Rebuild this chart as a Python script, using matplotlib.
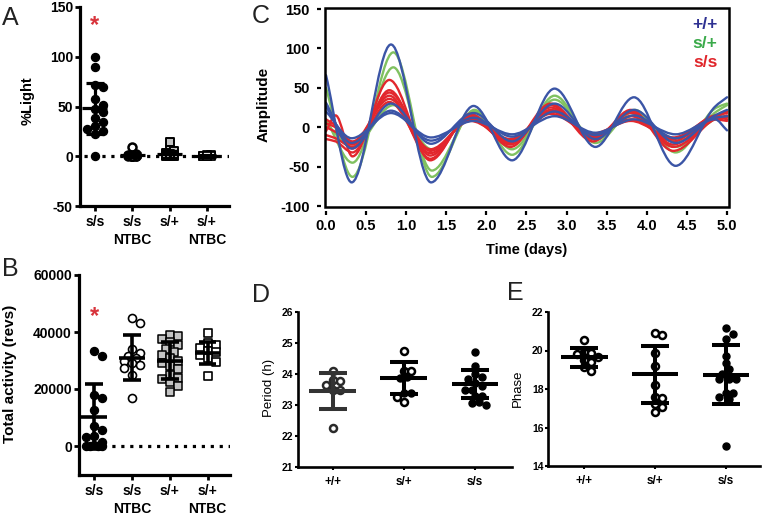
import numpy as np
import matplotlib
matplotlib.use('Agg')
import matplotlib.pyplot as plt
from matplotlib.path import Path
from matplotlib.patches import PathPatch, Rectangle

plt.rcParams['font.family'] = ['Liberation Sans', 'DejaVu Sans']
plt.rcParams['font.weight'] = 'bold'
plt.rcParams['axes.labelweight'] = 'bold'
plt.rcParams['axes.unicode_minus'] = False

W, H = 762, 518

# ---------------- data ----------------
groups_ab = ['s/s', 's/s\nNTBC', 's/+', 's/+\nNTBC']

# A: % activity in light
light_ss = [100, 90, 72, 70, 58, 52, 47, 44, 38, 34, 30, 27, 25, 22, 0]
light_ssN = [9, 2, 1, 1, 0.5, 0, 0, 0, 0, 0, 0, 0]
light_sp = [14, 6, 5, 3, 2, 1, 1, 0, 0, 0, 0, 0, 0, 0, 0]
light_spN = [1, 1, 0.5, 0, 0, 0, 0, 0]
light_mean = [48, 1, 2, 0.3]
light_sd = [26, 2, 3.5, 0.8]

# B: total activity (revs)
act_ss = [33500, 31500, 18000, 17000, 12500, 7000, 5500, 3500, 3000, 1500, 500, 0, 0, 0, 0]
act_ssN = [45000, 43000, 34000, 32500, 31500, 31000, 30000, 29000, 28500, 27500, 25000, 17000]
act_sp = [39000, 38500, 37500, 36500, 35500, 34000, 33000, 32000, 31000, 30000, 29000,
          28000, 27000, 25000, 24000, 23500, 22500, 21000, 19000]
act_spN = [39500, 36000, 35500, 34500, 33500, 33000, 32000, 31000, 29500, 24500]
act_mean = [10300, 31000, 30000, 32700]
act_sd = [11300, 7800, 6500, 3800]

# C: detrended rhythms (extrema)
wt_t = [0.0, 0.32, 0.81, 1.31, 1.84, 2.32, 2.85, 3.36, 3.84, 4.36, 4.85, 5.0]
wt_curves = [
    [66, -70, 105, -70, 27, -42, 49, -25, 38, -49, 26, 38],
    [31, -27, 30, -21, 18, -18, 30, -15, 22, -20, 15, 22],
    [26, -20, 21, -17, 12, -12, 20, -10, 15, -14, 12, 14],
    [20, -14, 18, -13, 8, -9, 14, -7, 10, -9, 10, -4],
]
het_t = [0.0, 0.33, 0.84, 1.32, 1.85, 2.32, 2.85, 3.36, 3.85, 4.36, 4.87, 5.0]
het_curves = [
    [50, -63, 95, -63, 22, -35, 40, -20, 22, -32, 25, 30],
    [10, -45, 76, -55, 20, -28, 35, -16, 20, -25, 20, 28],
    [5, -25, 28, -28, 14, -18, 22, -12, 15, -18, 12, 20],
]
hom_t = [0.0, 0.12, 0.33, 0.79, 1.3, 1.8, 2.3, 2.8, 3.33, 3.8, 4.33, 4.85, 5.0]
hom_curves = [
    [-5, 15, -37, 60, -42, 17, -25, 28, -18, 22, -30, 12, 20],
    [-15, -18, -32, 47, -36, 13, -22, 30, -15, 20, -25, 10, 15],
    [10, 2, -27, 44, -30, 10, -20, 25, -13, 18, -22, 12, 12],
    [0, -6, -22, 40, -40, 15, -18, 22, -12, 14, -18, 14, 10],
    [5, 0, -18, 36, -28, 8, -15, 20, -10, 10, -15, 10, 8],
    [-10, -14, -25, 32, -33, 11, -17, 17, -8, 8, -13, 15, 18],
]
geno = ['+/+', 's/+', 's/s']
geno_col = ['#3b55a6', '#80c160', '#e2272d']
geno_txt = ['#2e3192', '#3aaa4a', '#e0262b']

# D: period (h)
per_wt = [24.1, 23.8, 23.78, 23.65, 23.5, 23.48, 22.27]
per_het_open = [24.75, 24.1, 24.1, 23.25, 23.09]
per_het_fill = [23.9, 23.88, 23.4, 23.38]
per_hom = [24.7, 24.25, 24.0, 23.9, 23.85, 23.7, 23.6, 23.5, 23.5, 23.3, 23.3, 23.1, 23.07, 23.0]
per_mean = [23.46, 23.86, 23.69]
per_sd = [0.58, 0.52, 0.45]

# E: phase
ph_wt = [20.52, 19.92, 19.85, 19.8, 19.65, 19.5, 19.4, 19.15, 18.95]
ph_het = [20.92, 20.8, 19.88, 19.2, 18.2, 17.6, 17.55, 17.22, 17.05, 16.82]
ph_hom = [21.15, 20.86, 20.58, 19.7, 19.33, 19.02, 18.8, 18.52, 18.5, 18.5, 17.8, 17.8, 17.6, 17.5, 15.05]
ph_mean = [19.64, 18.76, 18.73]
ph_sd = [0.5, 1.47, 1.53]


# ---------------- helpers ----------------
fig = plt.figure(figsize=(W / 100, H / 100), dpi=100)


def px_axes(l, t, r, b):
    return fig.add_axes([l / W, 1 - b / H, (r - l) / W, (b - t) / H])


def scales(ax):
    bb = ax.get_position()
    x0, x1 = ax.get_xlim()
    y0, y1 = ax.get_ylim()
    return bb.width * W / (x1 - x0), bb.height * H / (y1 - y0)


def swarm(vals, sx, sy, d, cap):
    # horizontal offsets so dots of diameter d (px) don't overlap, limited to +-cap px
    vals = np.asarray(vals, float)
    cands = [0.0]
    k = 1
    while k * d * 0.5 <= cap:
        cands += [k * d * 0.5, -k * d * 0.5]
        k += 1
    placed = []
    offs = np.zeros(len(vals))
    for i in np.argsort(-vals, kind='stable'):
        y = vals[i] * sy
        best, bestgap = 0.0, -1
        for c in cands:
            gap = min([np.hypot(c - px, y - py) for px, py in placed], default=1e9)
            if gap >= d * 0.95:
                best = c
                break
            if gap > bestgap:
                best, bestgap = c, gap
        offs[i] = best / sx
        placed.append((best, y))
    return offs


def dots(ax, x0, vals, d, cap, **kw):
    sx, sy = scales(ax)
    off = swarm(vals, sx, sy, d, cap)
    ax.scatter(x0 + off, vals, s=(d * 0.72) ** 2, zorder=3, clip_on=False, **kw)


def sd_bars(ax, xs, means, sds, wm, wc, lw, color='black'):
    for x, m, s in zip(xs, means, sds):
        ax.vlines(x, m - s, m + s, lw=lw, color=color, zorder=4)
        ax.hlines([m - s, m + s], x - wc, x + wc, lw=lw, color=color, zorder=4)
        ax.hlines(m, x - wm, x + wm, lw=lw, color=color, zorder=4)


def open_axes(ax, spw, tw, tl, ls):
    for s in ['top', 'right']:
        ax.spines[s].set_visible(False)
    for s in ['left', 'bottom']:
        ax.spines[s].set_linewidth(spw)
    ax.tick_params(width=tw, length=tl, labelsize=ls)


def smooth_line(ax, t, v, color, lw=1.7):
    # monotone cubic (Fritsch-Carlson) drawn as Bezier segments
    t = np.asarray(t, float)
    v = np.asarray(v, float)
    h = np.diff(t)
    dl = np.diff(v) / h
    m = np.zeros(len(t))
    m[0], m[-1] = dl[0], dl[-1]
    for k in range(1, len(t) - 1):
        if dl[k - 1] * dl[k] > 0:
            w1 = 2 * h[k] + h[k - 1]
            w2 = h[k] + 2 * h[k - 1]
            m[k] = (w1 + w2) / (w1 / dl[k - 1] + w2 / dl[k])
    verts = [(t[0], v[0])]
    codes = [Path.MOVETO]
    for k in range(len(h)):
        verts += [(t[k] + h[k] / 3, v[k] + m[k] * h[k] / 3),
                  (t[k + 1] - h[k] / 3, v[k + 1] - m[k + 1] * h[k] / 3),
                  (t[k + 1], v[k + 1])]
        codes += [Path.CURVE4] * 3
    ax.add_patch(PathPatch(Path(verts, codes), fill=False, edgecolor=color, lw=lw,
                           capstyle='round', joinstyle='round'))


def ylabel_at(ax, text, x, y, size, weight='bold'):
    ax.set_ylabel(text, fontsize=size, fontweight=weight)
    ax.yaxis.set_label_coords(x, y)
    ax.yaxis.label.set_verticalalignment('center')


# ---------------- A ----------------
axA = px_axes(80, 7, 229, 206)
axA.set_xlim(-0.40, 3.59)
axA.set_ylim(-50, 150)
open_axes(axA, 2.3, 2.0, 3.6, 10)
axA.set_yticks([-50, 0, 50, 100, 150])
axA.set_xticks(range(4))
axA.set_xticklabels(groups_ab, linespacing=1.35)
axA.tick_params(axis='y', pad=1.5)
axA.tick_params(axis='x', pad=3)
axA.axhline(0, xmin=0.03, xmax=1.0, color='black', lw=2.3, ls=(0, (1, 1.8)), zorder=1)
dots(axA, 0, light_ss, 8, 9, color='black')
dots(axA, 1, light_ssN, 8, 6, facecolor='white', edgecolor='black', linewidth=1.8)
dots(axA, 2, light_sp, 8, 6, marker='s', facecolor='#c4c4c4', edgecolor='black', linewidth=1.4)
dots(axA, 3, light_spN, 8, 6, marker='s', facecolor='white', edgecolor='black', linewidth=1.3)
sd_bars(axA, range(4), light_mean, light_sd, 0.335, 0.23, 2.3)
axA.text(0, 131, '*', color='#d8343c', fontsize=17, ha='center', va='center')
ylabel_at(axA, '%Light', -0.352, 0.53, 10.5)

# ---------------- B ----------------
axB = px_axes(79, 275, 230, 474.5)
axB.set_xlim(-0.40, 3.59)
axB.set_ylim(-10000, 60000)
open_axes(axB, 2.3, 2.0, 3.6, 10)
axB.set_yticks([0, 20000, 40000, 60000])
axB.set_xticks(range(4))
axB.set_xticklabels(groups_ab, linespacing=1.35)
axB.tick_params(axis='y', pad=1.5)
axB.tick_params(axis='x', pad=3)
axB.axhline(0, xmin=0.04, xmax=1.0, color='black', lw=2.3, ls=(0, (1, 1.8)), zorder=1)
dots(axB, 0, act_ss, 8, 10, color='black')
dots(axB, 1, act_ssN, 8, 11, facecolor='white', edgecolor='black', linewidth=1.2)
dots(axB, 2, act_sp, 8, 11, marker='s', facecolor='#c4c4c4', edgecolor='black', linewidth=1.1)
dots(axB, 3, act_spN, 8, 10, marker='s', facecolor='white', edgecolor='black', linewidth=1.2)
sd_bars(axB, range(4), act_mean, act_sd, 0.335, 0.23, 2.6)
axB.text(0, 45500, '*', color='#d8343c', fontsize=17, ha='center', va='center')
ylabel_at(axB, 'Total activity (revs)', -0.46, 0.504, 11)

# ---------------- C ----------------
axC = px_axes(325, 8, 729, 206.5)
axC.set_xlim(-0.0125, 5.025)
axC.set_ylim(-100.6, 151.3)
for s in axC.spines.values():
    s.set_visible(False)
axC.spines['left'].set_position(('outward', 3))
axC.spines['bottom'].set_position(('outward', 3))
axC.add_patch(Rectangle((0, 0), 1, 1, transform=axC.transAxes, fill=False,
                        edgecolor='black', lw=1.8, clip_on=False, zorder=5))
axC.set_yticks([-100, -50, 0, 50, 100, 150])
axC.set_xticks(np.arange(0, 5.01, 0.5))
axC.set_xticklabels([f'{v:.1f}' for v in np.arange(0, 5.01, 0.5)])
axC.tick_params(width=1.6, length=3, labelsize=10.5)
axC.tick_params(axis='y', pad=5)
axC.tick_params(axis='x', pad=3)
for curves, t, col in [(het_curves, het_t, geno_col[1]), (hom_curves, hom_t, geno_col[2]),
                       (wt_curves, wt_t, geno_col[0])]:
    for v in curves:
        smooth_line(axC, t, v, col)
for i, (g, c) in enumerate(zip(geno, geno_txt)):
    axC.text(0.972, 0.919 - 0.096 * i, g, color=c, fontsize=12.5, ha='right', va='center',
             transform=axC.transAxes)
ylabel_at(axC, 'Amplitude', -0.153, 0.516, 11)
axC.set_xlabel('Time (days)', fontsize=10.5, fontweight='bold')
axC.xaxis.set_label_coords(0.5, -0.219)
axC.xaxis.label.set_verticalalignment('center')

# ---------------- D ----------------
axD = px_axes(298, 312, 512, 467)
axD.set_xlim(-0.49, 2.52)
axD.set_ylim(21, 26)
open_axes(axD, 1.9, 1.5, 2.2, 7.5)
axD.set_yticks(range(21, 27))
axD.set_xticks(range(3))
axD.set_xticklabels(geno, fontsize=8.5)
axD.tick_params(axis='y', pad=1)
axD.tick_params(axis='x', pad=4)
dots(axD, 0, per_wt, 7, 19, facecolor='white', edgecolor='#2a2a2a', linewidth=1.8)
het_all = per_het_open + per_het_fill
sxD, syD = scales(axD)
offD = swarm(het_all, sxD, syD, 7, 19)
n_open = len(per_het_open)
axD.scatter(1 + offD[:n_open], per_het_open, s=(7 * 0.72) ** 2, facecolor='white',
            edgecolor='black', linewidth=1.8, zorder=3)
axD.scatter(1 + offD[n_open:], per_het_fill, s=(7 * 0.72) ** 2, color='black', zorder=3)
dots(axD, 2, per_hom, 7, 19, color='black')
sd_bars(axD, [0], per_mean[:1], per_sd[:1], 0.33, 0.2, 2.9, color='#333333')
sd_bars(axD, [1, 2], per_mean[1:], per_sd[1:], 0.33, 0.2, 2.9)
ylabel_at(axD, 'Period (h)', -0.136, 0.51, 9.5, weight='normal')

# ---------------- E ----------------
axE = px_axes(548, 312, 760, 466)
axE.set_xlim(-0.51, 2.48)
axE.set_ylim(14, 22)
open_axes(axE, 1.9, 1.5, 2.2, 7.5)
axE.set_yticks(range(14, 23, 2))
axE.set_xticks(range(3))
axE.set_xticklabels(geno, fontsize=8.5)
axE.tick_params(axis='y', pad=1)
axE.tick_params(axis='x', pad=4)
dots(axE, 0, ph_wt, 7, 19, facecolor='white', edgecolor='black', linewidth=1.8)
dots(axE, 1, ph_het, 7, 10, facecolor='white', edgecolor='black', linewidth=1.8)
dots(axE, 2, ph_hom, 7, 19, color='black')
sd_bars(axE, range(3), ph_mean, ph_sd, 0.33, 0.2, 2.9)
ylabel_at(axE, 'Phase', -0.142, 0.506, 9.5, weight='normal')

# ---------------- panel letters ----------------
for letter, x, y in [('A', 2, 25), ('B', 2, 276), ('C', 252, 23), ('D', 252, 302), ('E', 507, 300)]:
    fig.text(x / W, 1 - y / H, letter, fontsize=18, fontweight='normal', ha='left',
             va='baseline', color='#222222')

fig.savefig('out.png', dpi=100)
